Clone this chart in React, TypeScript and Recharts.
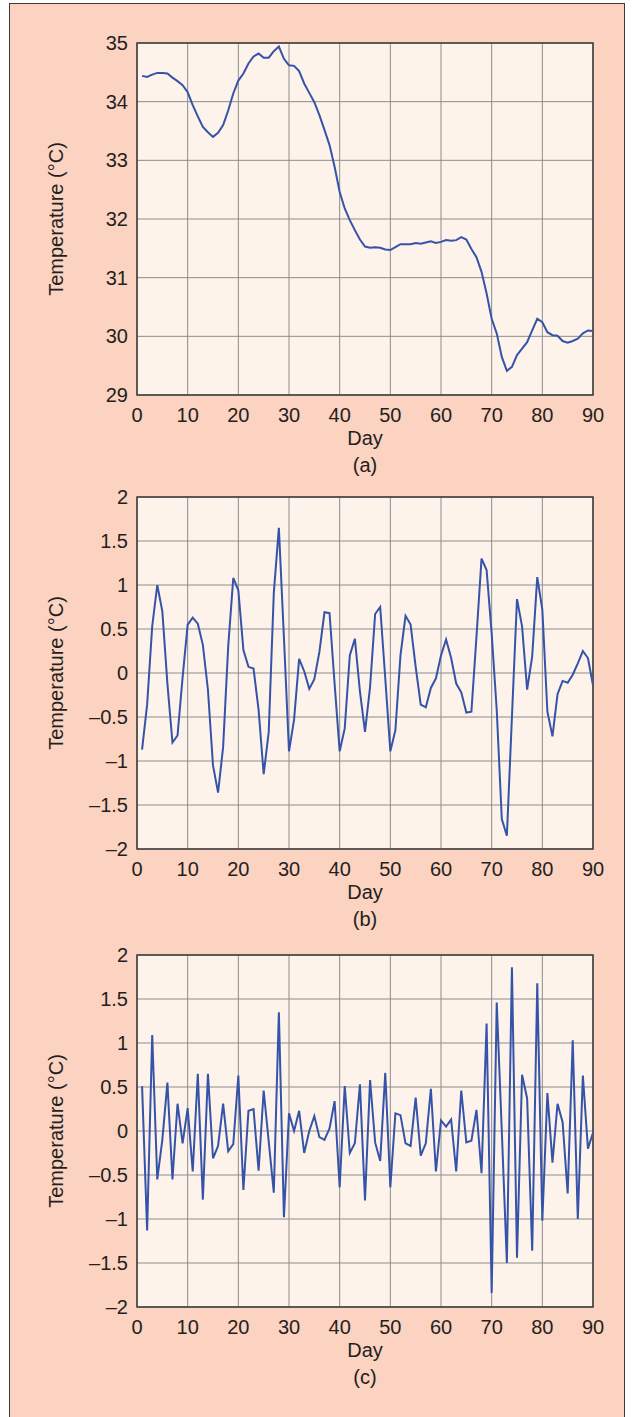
import React from 'react';
import { LineChart, Line, XAxis, YAxis, CartesianGrid, ReferenceArea } from 'recharts';

const DAYS = Array.from({ length: 90 }, (_, i) => i + 1);

const SERIES_A = [
  34.44, 34.42, 34.46, 34.49, 34.49, 34.48, 34.41, 34.35, 34.28, 34.16,
  33.94, 33.75, 33.57, 33.48, 33.40, 33.47, 33.60, 33.85, 34.14, 34.36,
  34.48, 34.65, 34.77, 34.82, 34.75, 34.75, 34.86, 34.94, 34.73, 34.62,
  34.61, 34.52, 34.31, 34.15, 33.99, 33.77, 33.52, 33.26, 32.89, 32.46,
  32.18, 31.98, 31.81, 31.65, 31.53, 31.51, 31.52, 31.51, 31.48, 31.47,
  31.52, 31.57, 31.57, 31.57, 31.59, 31.58, 31.60, 31.62, 31.59, 31.61,
  31.64, 31.63, 31.64, 31.69, 31.65, 31.49, 31.35, 31.10, 30.73, 30.30,
  30.05, 29.65, 29.41, 29.48, 29.68, 29.79, 29.90, 30.10, 30.30, 30.24,
  30.07, 30.02, 30.01, 29.92, 29.89, 29.92, 29.96, 30.05, 30.10, 30.09,
];

const SERIES_B = [
  -0.87, -0.36, 0.53, 1.00, 0.70, -0.12, -0.79, -0.71, -0.05, 0.55,
  0.63, 0.56, 0.32, -0.19, -1.05, -1.36, -0.84, 0.30, 1.08, 0.94,
  0.26, 0.07, 0.05, -0.42, -1.15, -0.67, 0.91, 1.65, 0.40, -0.89,
  -0.53, 0.16, 0.02, -0.18, -0.07, 0.24, 0.69, 0.68, -0.12, -0.89,
  -0.63, 0.20, 0.39, -0.21, -0.67, -0.16, 0.67, 0.75, -0.06, -0.89,
  -0.65, 0.20, 0.65, 0.55, 0.07, -0.36, -0.39, -0.17, -0.06, 0.20,
  0.38, 0.17, -0.12, -0.22, -0.45, -0.44, 0.41, 1.30, 1.17, 0.45,
  -0.42, -1.66, -1.85, -0.50, 0.84, 0.53, -0.19, 0.19, 1.09, 0.72,
  -0.44, -0.72, -0.24, -0.09, -0.11, -0.02, 0.11, 0.25, 0.17, -0.14,
];

const SERIES_C = [
  0.51, -1.13, 1.09, -0.55, -0.10, 0.55, -0.55, 0.31, -0.14, 0.26,
  -0.46, 0.65, -0.78, 0.65, -0.31, -0.17, 0.31, -0.23, -0.15, 0.63,
  -0.67, 0.23, 0.25, -0.45, 0.46, -0.12, -0.70, 1.35, -0.98, 0.20,
  0.00, 0.23, -0.25, 0.00, 0.17, -0.07, -0.10, 0.03, 0.34, -0.64,
  0.51, -0.25, -0.14, 0.53, -0.79, 0.58, -0.13, -0.34, 0.66, -0.64,
  0.20, 0.18, -0.14, -0.17, 0.38, -0.28, -0.14, 0.48, -0.46, 0.12,
  0.05, 0.13, -0.46, 0.46, -0.13, -0.11, 0.24, -0.48, 1.22, -1.84,
  1.46, 0.00, -1.50, 1.86, -1.44, 0.64, 0.37, -1.36, 1.68, -1.02,
  0.43, -0.36, 0.31, 0.10, -0.71, 1.03, -1.00, 0.63, -0.20, -0.02,
];

const X_TICKS = [0, 10, 20, 30, 40, 50, 60, 70, 80, 90];
const Y_TICKS_A = [29, 30, 31, 32, 33, 34, 35];
const Y_TICKS_BC = [-2, -1.5, -1, -0.5, 0, 0.5, 1, 1.5, 2];

const X_LABEL = 'Day';
const Y_LABEL = 'Temperature (°C)';
const CAPTIONS = ['(a)', '(b)', '(c)'];

const FONT = '"Liberation Sans", Arial, Helvetica, sans-serif';
const TEXT = '#231f20';
const LINE = '#3553a8';
const GRID = '#8d8d8d';
const PLOT_BG = '#fdf3ea';
const PAGE_BG = '#fcd2c0';

const data = DAYS.map((d, i) => ({ day: d, a: SERIES_A[i], b: SERIES_B[i], c: SERIES_C[i] }));

const fmt = (v: number) => String(v).replace('-', '\u2013');

function XCaption(props: any) {
  const vb = props.viewBox || { x: 137, y: 395, width: 456 };
  const cx = vb.x + vb.width / 2;
  return (
    <g>
      <text x={cx} y={vb.y + 50} textAnchor="middle" fontSize={20} fill={TEXT} fontFamily={FONT}>
        {X_LABEL}
      </text>
      <text x={cx} y={vb.y + 77} textAnchor="middle" fontSize={20} fill={TEXT} fontFamily={FONT}>
        {props.caption}
      </text>
    </g>
  );
}

function YCaption(props: any) {
  const vb = props.viewBox || { x: 0, y: 43, width: 137, height: 352 };
  const tx = 63;
  const ty = vb.y + vb.height / 2;
  return (
    <text
      x={tx}
      y={ty}
      transform={`rotate(-90, ${tx}, ${ty})`}
      textAnchor="middle"
      fontSize={20}
      fill={TEXT}
      fontFamily={FONT}
    >
      {Y_LABEL}
    </text>
  );
}

type PanelProps = {
  top: number;
  dataKey: string;
  domain: [number, number];
  ticks: number[];
  caption: string;
};

function Panel({ top, dataKey, domain, ticks, caption }: PanelProps) {
  return (
    <div style={{ position: 'absolute', left: 0, top }}>
      <LineChart
        width={633}
        height={480}
        data={data}
        margin={{ top: 43, right: 40, bottom: 0, left: 0 }}
        style={{ fontFamily: FONT }}
      >
        <CartesianGrid stroke={GRID} strokeWidth={1} fill={PLOT_BG} fillOpacity={1} />
        <XAxis
          type="number"
          dataKey="day"
          domain={[0, 90]}
          ticks={X_TICKS}
          interval={0}
          allowDataOverflow
          tickLine={false}
          axisLine={false}
          tickSize={6}
          tickMargin={7}
          height={85}
          tick={{ fontSize: 20, fill: TEXT, fontFamily: FONT }}
          label={<XCaption caption={caption} />}
        />
        <YAxis
          type="number"
          domain={domain}
          ticks={ticks}
          interval={0}
          allowDataOverflow
          tickLine={false}
          axisLine={false}
          tickSize={4}
          tickMargin={5}
          width={137}
          tickFormatter={fmt}
          tick={{ fontSize: 20, fill: TEXT, fontFamily: FONT }}
          label={<YCaption />}
        />
        <Line
          type="linear"
          dataKey={dataKey}
          stroke={LINE}
          strokeWidth={2}
          dot={false}
          activeDot={false}
          isAnimationActive={false}
        />
        <ReferenceArea
          x1={0}
          x2={90}
          y1={domain[0]}
          y2={domain[1]}
          fill="none"
          stroke="#3a3a3a"
          strokeWidth={1.5}
          ifOverflow="visible"
        />
      </LineChart>
    </div>
  );
}

export default function App() {
  return (
    <div
      style={{
        position: 'absolute',
        left: 0,
        top: 0,
        width: 633,
        height: 1417,
        overflow: 'hidden',
        background: '#ffffff',
      }}
    >
      <div
        style={{
          position: 'absolute',
          left: 9,
          top: 3,
          width: 614,
          height: 1430,
          background: PAGE_BG,
          borderLeft: '1.5px solid #3a3a3a',
          borderTop: '1.5px solid #3a3a3a',
          borderRight: '1.5px solid #3a3a3a',
        }}
      />
      <Panel top={0} dataKey="a" domain={[29, 35]} ticks={Y_TICKS_A} caption={CAPTIONS[0]} />
      <Panel top={454} dataKey="b" domain={[-2, 2]} ticks={Y_TICKS_BC} caption={CAPTIONS[1]} />
      <Panel top={912} dataKey="c" domain={[-2, 2]} ticks={Y_TICKS_BC} caption={CAPTIONS[2]} />
    </div>
  );
}
